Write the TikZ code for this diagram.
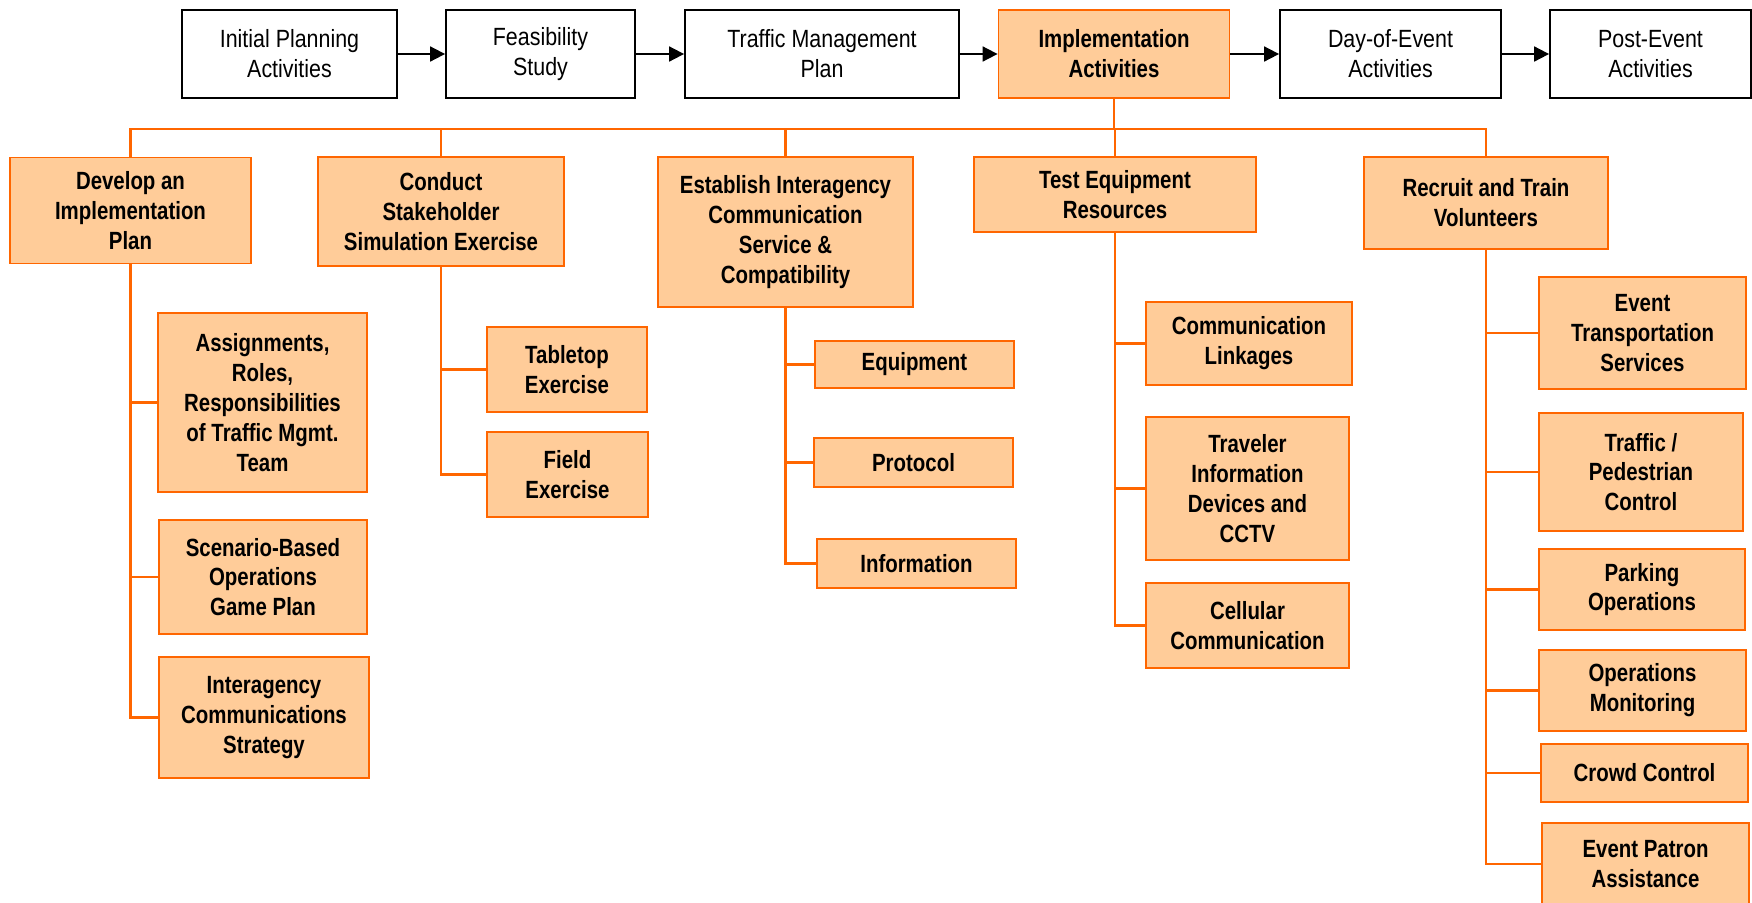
\documentclass[tikz,border=0pt]{standalone}
\usepackage{fontspec}
\setmainfont{Liberation Sans}[FakeStretch=0.86]
\newfontfamily\kidfont{Liberation Sans}[FakeStretch=0.82]
\usetikzlibrary{arrows.meta}
\definecolor{peach}{RGB}{255,204,153}
\definecolor{rust}{RGB}{255,102,0}

\begin{document}
\begin{tikzpicture}
	 [x=0.5bp,y=-0.5bp,
	  every node/.style={rectangle,inner sep=1pt,align=center,text=black},
	  phase/.style={draw=black,fill=white,line width=0.9pt,minimum height=44bp,font=\fontsize{12.5}{15}\selectfont},
	  task/.style={draw=rust,fill=peach,line width=0.9pt,font=\kidfont\bfseries\fontsize{12.5}{15}\selectfont},
	  flow/.style={line width=0.9pt,-{Triangle[length=7.5bp,width=7.5bp]}},
	  branch/.style={draw=rust,line width=1.1pt}]
	\useasboundingbox (0,0) rectangle (1752,902);

	  \node (init)[phase,minimum width=107.5bp] at (289.5,54) {Initial Planning\\Activities};
	  \node (feas)[phase,minimum width=94.5bp] at (540.5,54) {Feasibility\\Study};
	  \node (tmp)[phase,minimum width=137bp] at (822,54) {Traffic Management\\Plan};
	  \node (impl)[task,minimum width=115.5bp,minimum height=44bp] at (1114,54) {Implementation\\Activities};
	  \node (day)[phase,minimum width=110.5bp] at (1390.5,54) {Day-of-Event\\Activities};
	  \node (post)[phase,minimum width=100.5bp] at (1650.5,54) {Post-Event\\Activities};

	\foreach \from/\to in {init/feas,feas/tmp,tmp/impl,impl/day,day/post}
    \draw[flow] (\from) -- (\to);

	  \node (dev)[task,minimum width=120.5bp,minimum height=53bp] at (130.5,210.5) {Develop an\\Implementation\\Plan};
	  \node (cond)[task,minimum width=123bp,minimum height=54.5bp] at (441,211.5) {Conduct\\Stakeholder\\Simulation Exercise};
	  \node (est)[task,minimum width=127.5bp,minimum height=75bp] at (785.5,232) {Establish Interagency\\Communication\\Service \&\\Compatibility};
	  \node (test)[task,minimum width=141bp,minimum height=37.5bp] at (1115,194.5) {Test Equipment\\Resources};
	  \node (rec)[task,minimum width=122bp,minimum height=46bp] at (1486,203) {Recruit and Train\\Volunteers};

	\draw[branch] (impl.south) -- ++(0,30) coordinate (bus);
	\foreach \to in {dev,cond,est,test,rec}
    \draw[branch] (bus) -| (\to.north);

	  \node (assign)[task,minimum width=104.5bp,minimum height=89.5bp] at (262.5,402.5) {Assignments,\\Roles,\\Responsibilities\\of Traffic Mgmt.\\Team};
	  \node (scen)[task,minimum width=104bp,minimum height=57bp] at (263,577) {Scenario-Based\\Operations\\Game Plan};
	  \node (istrat)[task,minimum width=105bp,minimum height=60.5bp] at (264,717.5) {Interagency\\Communications\\Strategy};

	  \node (table)[task,minimum width=80bp,minimum height=42.5bp] at (567,369.5) {Tabletop\\Exercise};
	  \node (field)[task,minimum width=80.5bp,minimum height=42.5bp] at (567.5,474.5) {Field\\Exercise};

	  \node (equip)[task,minimum width=99.5bp,minimum height=23.5bp] at (914.5,364.5) {Equipment};
	  \node (proto)[task,minimum width=99.5bp,minimum height=24.5bp] at (913.5,462.5) {Protocol};
	  \node (info)[task,minimum width=99.5bp,minimum height=24.5bp] at (916.5,563.5) {Information};

	  \node (link)[task,minimum width=103bp,minimum height=41.5bp] at (1249,343.5) {Communication\\Linkages};
	  \node (trav)[task,minimum width=101.5bp,minimum height=71.5bp] at (1247.5,488.5) {Traveler\\Information\\Devices and\\CCTV};
	  \node (cell)[task,minimum width=101.5bp,minimum height=42.5bp] at (1247.5,625.5) {Cellular\\Communication};

	  \node (transp)[task,minimum width=103.5bp,minimum height=56bp] at (1642.5,333) {Event\\Transportation\\Services};
	  \node (ped)[task,minimum width=102bp,minimum height=59bp] at (1641,472) {Traffic /\\Pedestrian\\Control};
	  \node (park)[task,minimum width=103bp,minimum height=40.5bp] at (1642,589.5) {Parking\\Operations};
	  \node (monit)[task,minimum width=103.5bp,minimum height=40.5bp] at (1642.5,690.5) {Operations\\Monitoring};
	  \node (crowd)[task,minimum width=103.5bp,minimum height=29bp] at (1644.5,773) {Crowd Control};
	  \node (patron)[task,minimum width=103.5bp,minimum height=41bp] at (1645.5,864) {Event Patron\\Assistance};

	\foreach \from/\to in {dev/assign,dev/scen,dev/istrat,cond/table,cond/field,est/equip,est/proto,est/info,
	  test/link,test/trav,test/cell,rec/transp,rec/ped,rec/park,rec/monit,rec/crowd,rec/patron}
    \draw[branch] (\from.south) |- (\to.west);

\end{tikzpicture}
\end{document}
